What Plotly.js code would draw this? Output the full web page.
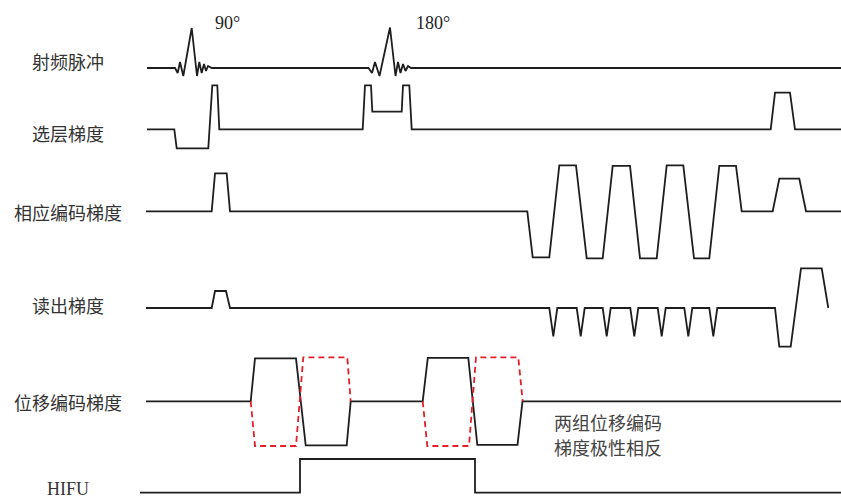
<!DOCTYPE html>
<html>
<head>
<meta charset="utf-8">
<script src="https://cdn.plot.ly/plotly-3.0.1.min.js"></script>
<style>html,body{margin:0;padding:0;background:#fff;}#chart{width:841px;height:500px;}</style>
</head>
<body>
<div id="chart"></div>
<script>
// ---- channel names ----
const channelNames = ['射频脉冲', '选层梯度', '相应编码梯度', '读出梯度', '位移编码梯度', 'HIFU'];
const pulseLabels = ['90°', '180°'];
const noteText = ['两组位移编码', '梯度极性相反'];

// ---- waveforms: time (x) and amplitude (up = positive) ----
const rfT = [147, 175, 177.7, 180, 183.3, 191.7, 197, 199.3, 201.7, 204, 206, 208, 211.7,
             368.5, 372, 375, 379.5, 390, 395.5, 398, 400.5, 403, 405.5, 408, 411, 841];
const rfA = [0, 0, -5, 6, -8, 40, -8, 6, -5, 4, -3, 2, 0,
             0, -5, 6, -8, 40.5, -8, 6, -5, 4, -3, 2, 0, 0];

const ssT = [147, 174.3, 176.7, 208.3, 212.3, 217.3, 219.3,
             362.7, 365, 371, 372.3, 401.7, 403, 409.3, 411.7,
             770.7, 775, 790, 795, 841];
const ssA = [0, 0, -19, -19, 44, 44, 0,
             0, 44, 44, 17.6, 17.6, 44, 44, 0,
             0, 36.6, 36.6, 0, 0];

const peT = [146, 211.7, 215, 226.7, 230,
             527.3, 532.7, 549.3, 559.3, 576, 586.7, 602.7, 612.7, 630, 640, 656.7,
             666.7, 683.3, 694, 709.3, 719.3, 736, 741.7,
             772.7, 779.3, 799.3, 806, 841];
const peA = [0, 0, 38, 38, 0,
             0, -46, -46, 46, 46, -47, -47, 45.5, 45.5, -47, -47,
             46, 46, -47, -47, 45.5, 45.5, 0,
             0, 32.6, 32.6, 0, 0];

const roT = [146, 211.7, 215, 226, 230,
             549.3, 553.3, 557.3, 576.7, 580.7, 584.7, 602.7, 606.7, 610.7,
             630.3, 634.3, 638.3, 657.7, 661.7, 665.7, 684.3, 688.3, 692.3,
             709.3, 713.3, 717.3,
             775, 779.3, 790.7, 801, 821.7, 828.3];
const roA = [0, 0, 17, 17, 0,
             0, -28.4, 0, 0, -28.4, 0, 0, -28.4, 0,
             0, -28.4, 0, 0, -28.4, 0, 0, -28.4, 0,
             0, -28.4, 0,
             0, -38.7, -38.7, 39.7, 39.7, 0];

// motion encoding, group A (solid black)
const meT = [146, 250.7, 255, 296, 305.7, 346.7, 350.7,
             422.7, 427.8, 468.3, 477.3, 517.5, 522.5, 841];
const meA = [0, 0, 43, 43, -44, -44, 0,
             0, 43.5, 43.5, -43.5, -43.5, 0, 0];
// motion encoding, group B (reversed polarity, red dashed)
const meRevT = [250.7, 255, 296, 303.3, 347.3, 350.7];
const meRevA = [0, -44.7, -44.7, 44, 44, 0];
const meRev2T = [422.7, 427.3, 469, 476, 518.3, 522.7];
const meRev2A = [0, -44.7, -44.7, 44, 44, 0];

const hifuT = [140, 300, 300, 475, 475, 841];
const hifuA = [0, 0, 33.7, 33.7, 0, 0];

// ---- layout constants ----
const W = 841, H = 500;
const baselines = [68, 129.3, 211.3, 308, 401.3, 492.7];   // px from top
const labelY = [60.7, 132.7, 212, 305, 401.7, 489];
const labelX = 68;
const black = '#1e1e1e';
const red = '#e3202a';

function yax(k) {
  const b = baselines[k];
  const ax = {range: [b - H, b], domain: [0, 1], visible: false, fixedrange: true};
  if (k > 0) ax.overlaying = 'y';
  return ax;
}
function tr(x, y, k, color, dash) {
  return {x: x, y: y, type: 'scatter', mode: 'lines', yaxis: k === 0 ? 'y' : 'y' + (k + 1),
          line: {color: color || black, width: 1.8, dash: dash || 'solid'}, hoverinfo: 'skip'};
}

const data = [
  tr(rfT, rfA, 0),
  tr(ssT, ssA, 1),
  tr(peT, peA, 2),
  tr(roT, roA, 3),
  tr(meT, meA, 4),
  tr(meRevT, meRevA, 4, red, '6px,4px'),
  tr(meRev2T, meRev2A, 4, red, '6px,4px'),
  tr(hifuT, hifuA, 5)
];

const annotations = channelNames.map((n, i) => ({
  text: n, xref: 'paper', yref: 'paper', x: labelX / W, y: 1 - labelY[i] / H,
  xanchor: 'center', yanchor: 'middle', showarrow: false,
  font: {family: i === 5 ? 'Liberation Serif, serif' : 'Noto Sans CJK SC, sans-serif', size: 18, color: '#333'}
}));
annotations.push({text: pulseLabels[0], xref: 'paper', yref: 'paper', x: 227 / W, y: 1 - 23 / H,
  xanchor: 'center', yanchor: 'middle', showarrow: false,
  font: {family: 'Liberation Serif, serif', size: 18, color: '#222'}});
annotations.push({text: pulseLabels[1], xref: 'paper', yref: 'paper', x: 433 / W, y: 1 - 23 / H,
  xanchor: 'center', yanchor: 'middle', showarrow: false,
  font: {family: 'Liberation Serif, serif', size: 18, color: '#222'}});
const noteY = [421.7, 446.7];
noteText.forEach((t, i) => annotations.push({text: t, xref: 'paper', yref: 'paper', x: 552 / W, y: 1 - noteY[i] / H,
  xanchor: 'left', yanchor: 'middle', align: 'left', showarrow: false,
  font: {family: 'Noto Sans CJK SC, sans-serif', size: 18, color: '#444'}}));

const layout = {
  width: W, height: H,
  margin: {l: 0, r: 0, t: 0, b: 0, pad: 0},
  paper_bgcolor: '#fff', plot_bgcolor: '#fff',
  showlegend: false,
  xaxis: {range: [0, W], visible: false, fixedrange: true},
  annotations: annotations
};
for (let k = 0; k < 6; k++) layout[k === 0 ? 'yaxis' : 'yaxis' + (k + 1)] = yax(k);

Plotly.newPlot('chart', data, layout, {staticPlot: true, displayModeBar: false});
</script>
</body>
</html>
